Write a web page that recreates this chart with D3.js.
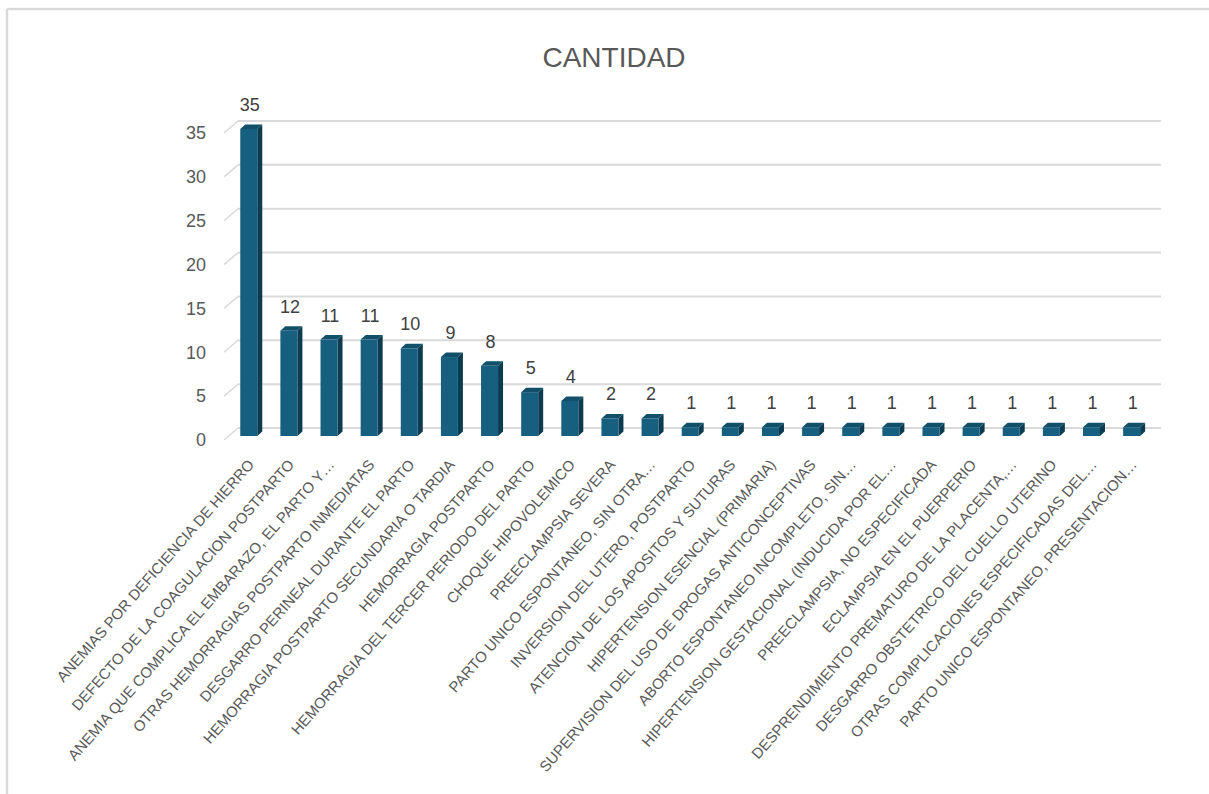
<!DOCTYPE html>
<html>
<head>
<meta charset="utf-8">
<script src="https://cdn.jsdelivr.net/npm/d3@7"></script>
<style>
  html, body { margin: 0; padding: 0; background: #fff; }
  svg { display: block; }
</style>
</head>
<body>
<svg id="chart" width="1209" height="794"></svg>
<script>
const categories = [
  "ANEMIAS POR DEFICIENCIA DE HIERRO",
  "DEFECTO DE LA COAGULACION POSTPARTO",
  "ANEMIA QUE COMPLICA EL EMBARAZO, EL PARTO Y\u2026",
  "OTRAS HEMORRAGIAS POSTPARTO INMEDIATAS",
  "DESGARRO PERINEAL DURANTE EL PARTO",
  "HEMORRAGIA POSTPARTO SECUNDARIA O TARDIA",
  "HEMORRAGIA POSTPARTO",
  "HEMORRAGIA DEL TERCER PERIODO DEL PARTO",
  "CHOQUE HIPOVOLEMICO",
  "PREECLAMPSIA SEVERA",
  "PARTO UNICO ESPONTANEO, SIN OTRA\u2026",
  "INVERSION DEL UTERO, POSTPARTO",
  "ATENCION DE LOS APOSITOS Y SUTURAS",
  "HIPERTENSION ESENCIAL (PRIMARIA)",
  "SUPERVISION DEL USO DE DROGAS ANTICONCEPTIVAS",
  "ABORTO ESPONTANEO INCOMPLETO, SIN\u2026",
  "HIPERTENSION GESTACIONAL (INDUCIDA POR EL\u2026",
  "PREECLAMPSIA, NO ESPECIFICADA",
  "ECLAMPSIA EN EL PUERPERIO",
  "DESPRENDIMIENTO PREMATURO DE LA PLACENTA,\u2026",
  "DESGARRO OBSTETRICO DEL CUELLO UTERINO",
  "OTRAS COMPLICACIONES ESPECIFICADAS DEL\u2026",
  "PARTO UNICO ESPONTANEO, PRESENTACION\u2026"
];
const cantidad = [35, 12, 11, 11, 10, 9, 8, 5, 4, 2, 2, 1, 1, 1, 1, 1, 1, 1, 1, 1, 1, 1, 1];
const yTicks = [0, 5, 10, 15, 20, 25, 30, 35];
const title = "CANTIDAD";

const svg = d3.select("#chart");
const FONT = "'Liberation Sans', Arial, sans-serif";

// chart area frame (light gray border)
svg.append("line").attr("x1", 7).attr("y1", 9).attr("x2", 1209).attr("y2", 9)
  .attr("stroke", "#d9d9d9").attr("stroke-width", 2.5);
svg.append("line").attr("x1", 7).attr("y1", 9).attr("x2", 7).attr("y2", 794)
  .attr("stroke", "#d9d9d9").attr("stroke-width", 2.5);

// title
svg.append("text").attr("x", 614).attr("y", 67).attr("text-anchor", "middle")
  .attr("font-family", FONT).attr("font-size", 28).attr("fill", "#595959")
  .text(title);

// scales (front plane)
const x = d3.scaleBand().domain(categories).range([224, 1147]).padding(0);
const y = d3.scaleLinear().domain([0, 35]).range([440, 133]);

// 3D depth offsets
const wall = { dx: 14, dy: -12 };   // back wall
const barPlane = { dx: 4.7, dy: -4 }; // front face of bars
const barDepth = { dx: 5, dy: -4.5 };
const barW = 17;

// gridlines on back wall + left diagonal ticks
const grid = svg.append("g");
yTicks.forEach(t => {
  grid.append("line")
    .attr("x1", x.range()[0] + wall.dx).attr("x2", x.range()[1] + wall.dx)
    .attr("y1", y(t) + wall.dy).attr("y2", y(t) + wall.dy)
    .attr("stroke", "#d9d9d9").attr("stroke-width", 2);
  grid.append("line")
    .attr("x1", x.range()[0]).attr("y1", y(t))
    .attr("x2", x.range()[0] + wall.dx).attr("y2", y(t) + wall.dy)
    .attr("stroke", "#d9d9d9").attr("stroke-width", 1.5);
});

// y axis labels
const yAxis = d3.axisLeft(y).tickValues(yTicks).tickSize(0).tickPadding(18);
const ga = svg.append("g").attr("transform", `translate(${x.range()[0]},0)`).call(yAxis);
ga.select(".domain").remove();
ga.selectAll("text").attr("font-family", FONT).attr("font-size", 18).attr("fill", "#595959");

// bars
const bars = svg.append("g");
categories.forEach((c, i) => {
  const v = cantidad[i];
  const left = x(c) + (x.bandwidth() - barW) / 2 + barPlane.dx;
  const right = left + barW;
  const top = y(v) + barPlane.dy;
  const bottom = y(0) + barPlane.dy;
  // side face
  bars.append("path")
    .attr("d", `M${right},${top} L${right + barDepth.dx},${top + barDepth.dy} L${right + barDepth.dx},${bottom + barDepth.dy} L${right},${bottom} Z`)
    .attr("fill", "#0d3b4f");
  // top face
  bars.append("path")
    .attr("d", `M${left},${top} L${left + barDepth.dx},${top + barDepth.dy} L${right + barDepth.dx},${top + barDepth.dy} L${right},${top} Z`)
    .attr("fill", "#124f68");
  // front face
  bars.append("rect")
    .attr("x", left).attr("y", top).attr("width", barW).attr("height", bottom - top)
    .attr("fill", "#175f7e");
  // value label
  bars.append("text")
    .attr("x", left + barW / 2 + 1).attr("y", top - 18)
    .attr("text-anchor", "middle")
    .attr("font-family", FONT).attr("font-size", 18).attr("fill", "#404040")
    .text(v);
});

// category labels rotated
const lab = svg.append("g");
categories.forEach((c, i) => {
  const cx = x(c) + x.bandwidth() / 2 + barPlane.dx - 2;
  lab.append("text")
    .attr("transform", `translate(${cx},458) rotate(-48.7)`)
    .attr("text-anchor", "end")
    .attr("dy", "0.72em")
    .attr("font-family", FONT).attr("font-size", 15).attr("fill", "#595959")
    .text(c);
});
</script>
</body>
</html>
